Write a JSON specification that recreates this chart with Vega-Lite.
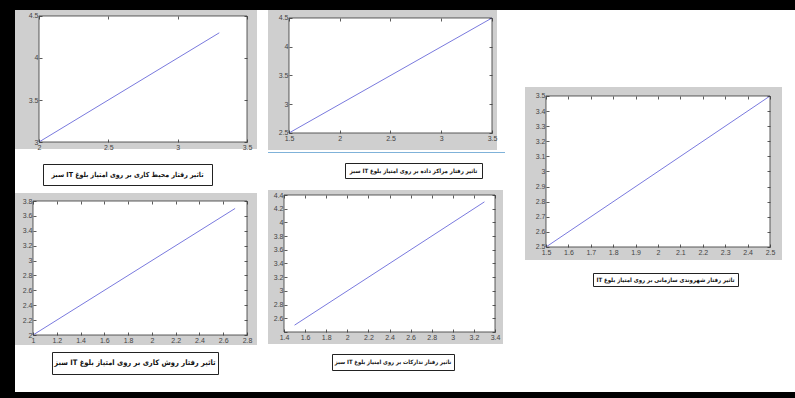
{
  "$schema": "https://vega.github.io/schema/vega-lite/v6.json",
  "padding": 0,
  "background": "white",
  "config": {
    "view": {"stroke": null},
    "axis": {"domain": false, "grid": false, "tickSize": 3, "tickColor": "#333", "tickWidth": 0.8, "labelFontSize": 7, "labelColor": "#444", "labelFont": "Liberation Sans", "labelPadding": 1, "labelOverlap": false, "labelFlush": false, "format": "~g", "zindex": 1},
    "text": {"font": "DejaVu Sans Condensed, DejaVu Sans", "fontWeight": "bold", "color": "#111"}
  },
  "spacing": 0,
  "vconcat": [
    {"width": 795, "height": 10, "view": {"fill": "black"}, "data": {"values": [{}]}, "mark": {"type": "rect", "color": "black"}, "encoding": {}},
    {
      "spacing": 0,
      "hconcat": [
        {"width": 15, "height": 382, "view": {"fill": "black"}, "data": {"values": [{}]}, "mark": {"type": "rect", "color": "black"}, "encoding": {}},
        {
          "spacing": 11,
          "hconcat": [
            {
              "spacing": 7,
              "vconcat": [
                {
                  "spacing": 13,
                  "vconcat": [
                    {
                      "width": 242, "height": 139,
                      "view": {"fill": "#cfcfcf", "stroke": null},
                      "resolve": {"axis": {"x": "independent", "y": "independent"}},
                      "layer": [
                        {"data": {"values": [{}]},
                         "mark": {"type": "rect", "fill": "white", "stroke": "#333", "strokeWidth": 0.8},
                         "encoding": {
                           "x": {"datum": 2, "type": "quantitative", "scale": {"domain": [1.8269, 3.5721], "nice": false, "zero": false}, "axis": {"orient": "top", "values": [2, 2.5, 3, 3.5], "offset": -9, "labels": false, "title": null, "zindex": 1}},
                           "x2": {"datum": 3.5},
                           "y": {"datum": 3, "type": "quantitative", "scale": {"domain": [2.9167, 4.5714], "nice": false, "zero": false}, "axis": {"orient": "right", "values": [3, 3.5, 4, 4.5], "offset": -13, "labels": false, "title": null, "zindex": 1}},
                           "y2": {"datum": 4.5}
                         }},
                        {"data": {"values": [{"x": 2, "y": 3}, {"x": 3.3, "y": 4.3}]},
                         "mark": {"type": "line", "color": "#7a7ade", "strokeWidth": 1},
                         "encoding": {
                           "x": {"field": "x", "type": "quantitative", "axis": {"orient": "bottom", "values": [2, 2.5, 3, 3.5], "offset": -10, "title": null, "zindex": 1}},
                           "y": {"field": "y", "type": "quantitative", "axis": {"orient": "left", "values": [3, 3.5, 4, 4.5], "offset": -27, "title": null, "zindex": 1}}
                         }}
                      ]
                    },
                    {
                      "spacing": 0, "bounds": "flush",
                      "hconcat": [
                        {"width": 28, "height": 21, "data": {"values": []}, "mark": "point"},
                        {"width": 169, "height": 21, "view": {"fill": "white", "stroke": "#222", "strokeWidth": 1},
                         "data": {"values": [{"t": "\u202bتاثیر رفتار محیط کاری بر روی امتیاز بلوغ IT سبز\u202c"}]},
                         "mark": {"type": "text", "fontSize": 7},
                         "encoding": {"text": {"field": "t"}}}
                      ]
                    }
                  ]
                },
                {
                  "spacing": 6,
                  "vconcat": [
                    {
                      "width": 242, "height": 152,
                      "view": {"fill": "#cfcfcf", "stroke": null},
                      "resolve": {"axis": {"x": "independent", "y": "independent"}},
                      "layer": [
                        {"data": {"values": [{}]},
                         "mark": {"type": "rect", "fill": "white", "stroke": "#333", "strokeWidth": 0.8},
                         "encoding": {
                           "x": {"datum": 1, "type": "quantitative", "scale": {"domain": [0.8486, 2.8841], "nice": false, "zero": false}, "axis": {"orient": "top", "values": [1, 1.2, 1.4, 1.6, 1.8, 2, 2.2, 2.4, 2.6, 2.8], "offset": -11, "labels": false, "title": null, "zindex": 1}},
                           "x2": {"datum": 2.8},
                           "y": {"datum": 2, "type": "quantitative", "scale": {"domain": [1.8657, 3.9075], "nice": false, "zero": false}, "axis": {"orient": "right", "values": [2, 2.2, 2.4, 2.6, 2.8, 3, 3.2, 3.4, 3.6, 3.8], "offset": -13, "labels": false, "title": null, "zindex": 1}},
                           "y2": {"datum": 3.8}
                         }},
                        {"data": {"values": [{"x": 1, "y": 2}, {"x": 2.7, "y": 3.7}]},
                         "mark": {"type": "line", "color": "#7a7ade", "strokeWidth": 1},
                         "encoding": {
                           "x": {"field": "x", "type": "quantitative", "axis": {"orient": "bottom", "values": [1, 1.2, 1.4, 1.6, 1.8, 2, 2.2, 2.4, 2.6, 2.8], "offset": -13, "title": null, "zindex": 1}},
                           "y": {"field": "y", "type": "quantitative", "axis": {"orient": "left", "values": [2, 2.2, 2.4, 2.6, 2.8, 3, 3.2, 3.4, 3.6, 3.8], "offset": -21, "title": null, "zindex": 1}}
                         }}
                      ]
                    },
                    {
                      "spacing": 0, "bounds": "flush",
                      "hconcat": [
                        {"width": 37, "height": 22, "data": {"values": []}, "mark": "point"},
                        {"width": 166, "height": 22, "view": {"fill": "white", "stroke": "#222", "strokeWidth": 1},
                         "data": {"values": [{"t": "\u202bتاثیر رفتار روش کاری بر روی امتیاز بلوغ IT سبز\u202c"}]},
                         "mark": {"type": "text", "fontSize": 7.5},
                         "encoding": {"text": {"field": "t"}}}
                      ]
                    }
                  ]
                }
              ]
            },
            {
              "spacing": 20,
              "hconcat": [
                {
                  "spacing": 11,
                  "vconcat": [
                    {
                      "spacing": 9,
                      "vconcat": [
                        {
                          "spacing": 2, "bounds": "flush",
                          "vconcat": [
                            {
                              "width": 229, "height": 140,
                              "view": {"fill": "#cfcfcf", "stroke": null},
                              "resolve": {"axis": {"x": "independent", "y": "independent"}},
                              "layer": [
                                {"data": {"values": [{}]},
                                 "mark": {"type": "rect", "fill": "white", "stroke": "#333", "strokeWidth": 0.8},
                                 "encoding": {
                                   "x": {"datum": 1.5, "type": "quantitative", "scale": {"domain": [1.2931, 3.5493], "nice": false, "zero": false}, "axis": {"orient": "top", "values": [1.5, 2, 2.5, 3, 3.5], "offset": -11, "labels": false, "title": null, "zindex": 1}},
                                   "x2": {"datum": 3.5},
                                   "y": {"datum": 2.5, "type": "quantitative", "scale": {"domain": [2.2043, 4.6391], "nice": false, "zero": false}, "axis": {"orient": "right", "values": [2.5, 3, 3.5, 4, 4.5], "offset": -8, "labels": false, "title": null, "zindex": 1}},
                                   "y2": {"datum": 4.5}
                                 }},
                                {"data": {"values": [{"x": 1.5, "y": 2.5}, {"x": 3.5, "y": 4.5}]},
                                 "mark": {"type": "line", "color": "#7a7ade", "strokeWidth": 1},
                                 "encoding": {
                                   "x": {"field": "x", "type": "quantitative", "axis": {"orient": "bottom", "values": [1.5, 2, 2.5, 3, 3.5], "offset": -20, "title": null, "zindex": 1}},
                                   "y": {"field": "y", "type": "quantitative", "axis": {"orient": "left", "values": [2.5, 3, 3.5, 4, 4.5], "offset": -24, "title": null, "zindex": 1}}
                                 }}
                              ]
                            },
                            {"width": 237, "height": 1, "view": {"fill": "#7fb2d9"}, "data": {"values": [{}]}, "mark": {"type": "rect", "color": "#7fb2d9"}, "encoding": {}}
                          ]
                        },
                        {
                          "spacing": 0, "bounds": "flush",
                          "hconcat": [
                            {"width": 77, "height": 15, "data": {"values": []}, "mark": "point"},
                            {"width": 137, "height": 15, "view": {"fill": "white", "stroke": "#222", "strokeWidth": 1},
                             "data": {"values": [{"t": "\u202bتاثیر رفتار مراکز داده بر روی امتیاز بلوغ IT سبز\u202c"}]},
                             "mark": {"type": "text", "fontSize": 6},
                             "encoding": {"text": {"field": "t"}}}
                          ]
                        }
                      ]
                    },
                    {
                      "spacing": 9,
                      "vconcat": [
                        {
                          "width": 235, "height": 154,
                          "view": {"fill": "#cfcfcf", "stroke": null},
                          "resolve": {"axis": {"x": "independent", "y": "independent"}},
                          "layer": [
                            {"data": {"values": [{}]},
                             "mark": {"type": "rect", "fill": "white", "stroke": "#333", "strokeWidth": 0.8},
                             "encoding": {
                               "x": {"datum": 1.4, "type": "quantitative", "scale": {"domain": [1.2483, 3.4758], "nice": false, "zero": false}, "axis": {"orient": "top", "values": [1.4, 1.6, 1.8, 2, 2.2, 2.4, 2.6, 2.8, 3, 3.2, 3.4], "offset": -8, "labels": false, "title": null, "zindex": 1}},
                               "x2": {"datum": 3.4},
                               "y": {"datum": 2.4, "type": "quantitative", "scale": {"domain": [2.2248, 4.473], "nice": false, "zero": false}, "axis": {"orient": "right", "values": [2.4, 2.6, 2.8, 3, 3.2, 3.4, 3.6, 3.8, 4, 4.2, 4.4], "offset": -11, "labels": false, "title": null, "zindex": 1}},
                               "y2": {"datum": 4.4}
                             }},
                            {"data": {"values": [{"x": 1.5, "y": 2.5}, {"x": 3.3, "y": 4.3}]},
                             "mark": {"type": "line", "color": "#7a7ade", "strokeWidth": 1},
                             "encoding": {
                               "x": {"field": "x", "type": "quantitative", "axis": {"orient": "bottom", "values": [1.4, 1.6, 1.8, 2, 2.2, 2.4, 2.6, 2.8, 3, 3.2, 3.4], "offset": -15, "title": null, "zindex": 1}},
                               "y": {"field": "y", "type": "quantitative", "axis": {"orient": "left", "values": [2.4, 2.6, 2.8, 3, 3.2, 3.4, 3.6, 3.8, 4, 4.2, 4.4], "labelExpr": "datum.value < 2.5 ? '' : datum.label", "offset": -19, "title": null, "zindex": 1}}
                             }}
                          ]
                        },
                        {
                          "spacing": 0, "bounds": "flush",
                          "hconcat": [
                            {"width": 64, "height": 16, "data": {"values": []}, "mark": "point"},
                            {"width": 122, "height": 16, "view": {"fill": "white", "stroke": "#222", "strokeWidth": 1},
                             "data": {"values": [{"t": "\u202bتاثیر رفتار تدارکات بر روی امتیاز بلوغ IT سبز\u202c"}]},
                             "mark": {"type": "text", "fontSize": 5.8},
                             "encoding": {"text": {"field": "t"}}}
                          ]
                        }
                      ]
                    }
                  ]
                },
                {
                  "spacing": 0,
                  "vconcat": [
                    {"width": 1, "height": 77, "data": {"values": []}, "mark": "point"},
                    {
                      "spacing": 12,
                      "vconcat": [
                        {
                          "width": 257, "height": 173,
                          "view": {"fill": "#cfcfcf", "stroke": null},
                          "resolve": {"axis": {"x": "independent", "y": "independent"}},
                          "layer": [
                            {"data": {"values": [{}]},
                             "mark": {"type": "rect", "fill": "white", "stroke": "#333", "strokeWidth": 0.8},
                             "encoding": {
                               "x": {"datum": 1.5, "type": "quantitative", "scale": {"domain": [1.40625, 2.5536], "nice": false, "zero": false}, "axis": {"orient": "top", "values": [1.5, 1.6, 1.7, 1.8, 1.9, 2, 2.1, 2.2, 2.3, 2.4, 2.5], "offset": -12, "labels": false, "title": null, "zindex": 1}},
                               "x2": {"datum": 2.5},
                               "y": {"datum": 2.5, "type": "quantitative", "scale": {"domain": [2.4139, 3.5596], "nice": false, "zero": false}, "axis": {"orient": "right", "values": [2.5, 2.6, 2.7, 2.8, 2.9, 3, 3.1, 3.2, 3.3, 3.4, 3.5], "offset": -15, "labels": false, "title": null, "zindex": 1}},
                               "y2": {"datum": 3.5}
                             }},
                            {"data": {"values": [{"x": 1.5, "y": 2.5}, {"x": 2.5, "y": 3.5}]},
                             "mark": {"type": "line", "color": "#7a7ade", "strokeWidth": 1},
                             "encoding": {
                               "x": {"field": "x", "type": "quantitative", "axis": {"orient": "bottom", "values": [1.5, 1.6, 1.7, 1.8, 1.9, 2, 2.1, 2.2, 2.3, 2.4, 2.5], "offset": -16, "title": null, "zindex": 1}},
                               "y": {"field": "y", "type": "quantitative", "axis": {"orient": "left", "values": [2.5, 2.6, 2.7, 2.8, 2.9, 3, 3.1, 3.2, 3.3, 3.4, 3.5], "offset": -24, "title": null, "zindex": 1}}
                             }}
                          ]
                        },
                        {
                          "spacing": 0, "bounds": "flush",
                          "hconcat": [
                            {"width": 68, "height": 13, "data": {"values": []}, "mark": "point"},
                            {"width": 145, "height": 13, "view": {"fill": "white", "stroke": "#222", "strokeWidth": 1},
                             "data": {"values": [{"t": "\u202bتاثیر رفتار شهروندی سازمانی بر روی امتیاز بلوغ IT\u202c"}]},
                             "mark": {"type": "text", "fontSize": 6},
                             "encoding": {"text": {"field": "t"}}}
                          ]
                        }
                      ]
                    }
                  ]
                }
              ]
            }
          ]
        }
      ]
    },
    {"width": 795, "height": 6, "view": {"fill": "black"}, "data": {"values": [{}]}, "mark": {"type": "rect", "color": "black"}, "encoding": {}}
  ]
}
